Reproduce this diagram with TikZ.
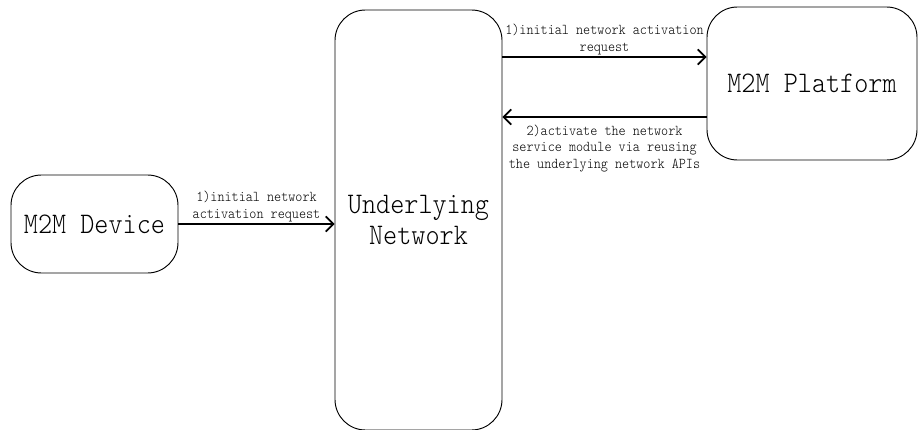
\documentclass[tikz,border=0pt]{standalone}
\usepackage{fontspec}
\newfontfamily\diafont{Latin Modern Mono Light}[FakeStretch=0.9]
\usetikzlibrary{arrows.meta}
\begin{document}
\begin{tikzpicture}[x=0.03cm,y=-0.03cm,
    block/.style={draw,line width=.8pt,rounded corners=26pt,align=center,
      font=\diafont\fontsize{25.5}{27}\selectfont},
    msg/.style={line width=1.5pt,-{Straight Barb[length=6.5pt,width=13pt]}},
    note/.style={align=center,inner sep=1pt,font=\diafont\fontsize{12.8}{14.2}\selectfont}]
  \useasboundingbox (0,0) rectangle (918,430);
  \node[block,minimum width=167*0.03cm,minimum height=98*0.03cm] (dev) at (94.5,224) {M2M Device};
  \node[block,minimum width=167*0.03cm,minimum height=420*0.03cm] (net) at (418.5,220) {Underlying\\Network};
  \node[block,minimum width=210*0.03cm,minimum height=153*0.03cm] (plat) at (812,83.5) {M2M Platform};
  % device -> network
  \draw[msg] (dev.east) -- (dev.east -| net.west)
    node[midway,above,note] (req1) {1)initial network\\activation request};
  % network <-> platform
  \draw[msg] (net.east |- 0,57) -- (plat.west |- 0,57)
    node[midway,above,note] (req2) {1)initial network activation\\request};
  \draw[msg] (plat.west |- 0,117) -- (net.east |- 0,117)
    node[midway,below,note,inner sep=6pt] (act) {2)activate the network\\service module via reusing\\the underlying network APIs};
\end{tikzpicture}
\end{document}
